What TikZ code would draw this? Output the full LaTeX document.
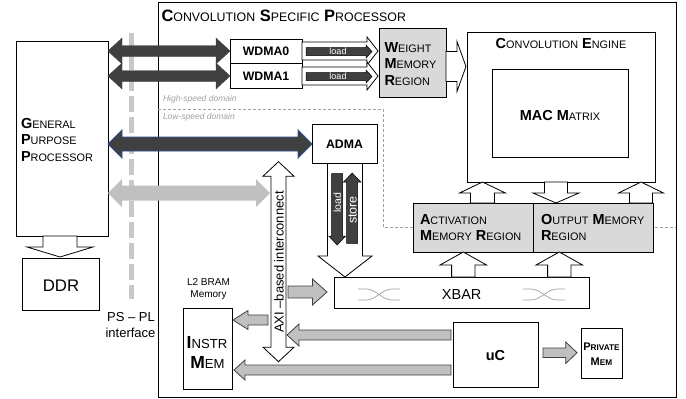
\documentclass[tikz,border=0pt]{standalone}
\usepackage{fontspec}
\setmainfont{Liberation Sans}
\definecolor{dark}{HTML}{404040}
\definecolor{lgray}{HTML}{C0C0C0}
\definecolor{boxgray}{HTML}{D9D9D9}
\definecolor{plgray}{HTML}{C8C8C8}
\definecolor{domgray}{HTML}{A0A0A0}
\definecolor{blueline}{HTML}{2F4F8F}
\newdimen\scd
\makeatletter
\newcommand\SC[2]{{\bfseries #1}{\scd=\f@size pt\scd=0.75\scd\fontsize{\strip@pt\scd}{\strip@pt\scd}\selectfont #2}}
\newcommand\SCb[2]{{\bfseries #1}{\scd=\f@size pt\scd=0.75\scd\fontsize{\strip@pt\scd}{\strip@pt\scd}\selectfont\bfseries #2}}
\makeatother
% horizontal single arrow: [style]{x start}{x tip}{y}{shaft half}{head half}{head length}
\newcommand\HArr[7][]{%
  \pgfmathsetmacro\hb{#3-sign(#3-#2)*#7}%
  \path[#1] (#2,#4-#5) -- (\hb,#4-#5) -- (\hb,#4-#6) -- (#3,#4) -- (\hb,#4+#6) -- (\hb,#4+#5) -- (#2,#4+#5) -- cycle;}
% horizontal double arrow: [style]{x left tip}{x right tip}{y}{shaft half}{head half}{head length}
\newcommand\HDArr[7][]{%
  \path[#1] (#2,#4) -- (#2+#7,#4-#6) -- (#2+#7,#4-#5) -- (#3-#7,#4-#5) -- (#3-#7,#4-#6) -- (#3,#4) -- (#3-#7,#4+#6) -- (#3-#7,#4+#5) -- (#2+#7,#4+#5) -- (#2+#7,#4+#6) -- cycle;}
% vertical single arrow: [style]{y start}{y tip}{x}{shaft half}{head half}{head length}
\newcommand\VArr[7][]{%
  \pgfmathsetmacro\vb{#3-sign(#3-#2)*#7}%
  \path[#1] (#4-#5,#2) -- (#4-#5,\vb) -- (#4-#6,\vb) -- (#4,#3) -- (#4+#6,\vb) -- (#4+#5,\vb) -- (#4+#5,#2) -- cycle;}
% vertical double arrow: [style]{y top tip}{y bottom tip}{x}{shaft half}{head half}{head length}
\newcommand\VDArr[7][]{%
  \path[#1] (#4,#2) -- (#4+#6,#2+#7) -- (#4+#5,#2+#7) -- (#4+#5,#3-#7) -- (#4+#6,#3-#7) -- (#4,#3) -- (#4-#6,#3-#7) -- (#4-#5,#3-#7) -- (#4-#5,#2+#7) -- (#4-#6,#2+#7) -- cycle;}
\begin{document}
\begin{tikzpicture}[x=1pt,y=-1pt,
  box/.style={draw=black, line width=0.8pt, fill=white, inner sep=0pt, outer sep=0pt},
  graybox/.style={box, fill=boxgray},
  hollow/.style={draw=black, line width=0.8pt, fill=white},
  darkarr/.style={fill=dark, draw=dark, line width=0.4pt},
  darkin/.style={fill=dark, draw=black, line width=0.5pt},
  grayarr/.style={fill=lgray, draw=dark, line width=0.8pt},
  lightarr/.style={fill=lgray},
  txt/.style={inner sep=0pt, outer sep=0pt},
  big/.style={txt, font=\fontsize{14.5}{17}\selectfont},
  dom/.style={txt, anchor=base west, text=domgray, font=\fontsize{8.5}{10}\selectfont\itshape},
  whitetxt/.style={txt, text=white},
  xsym/.style={domgray, line width=0.7pt}]
\useasboundingbox (0,0) rectangle (686,399);
% PS-PL interface line
\coordinate (plTop) at (131,33);
\coordinate (plBot) at (131,299);
\draw[plgray, line width=5pt, dash pattern=on 16pt off 5pt] (plTop) -- (plBot);
% Convolution specific processor frame
\node[draw=black, line width=0.8pt, inner sep=0pt, minimum width=518pt, minimum height=395pt] (csp) at (417,199.5) {};
\node[txt, anchor=base west, font=\fontsize{16.5}{19}\selectfont] (title) at (161.5,21) {\SC{C}{ONVOLUTION} \SC{S}{PECIFIC} \SC{P}{ROCESSOR}};
% domain boundary
\draw[domgray, line width=0.6pt, dash pattern=on 3pt off 2pt] (158,109) -- (383,109) -- (383,227.5) -- (676,227.5);
\node[dom] (hs) at (163,101.5) {High-speed domain};
\node[dom] (ls) at (163,119.5) {Low-speed domain};
% boxes
\node[box, minimum width=92pt, minimum height=195pt] (gpp) at (62,138.5) {};
\node[box, minimum width=77pt, minimum height=52pt] (ddr) at (60.5,284) {};
\node[box, minimum width=72pt, minimum height=24.5pt] (wdma0) at (266,51.25) {};
\node[box, minimum width=72pt, minimum height=24.5pt] (wdma1) at (266,75.75) {};
\node[graybox, minimum width=67pt, minimum height=69pt] (wmr) at (412.5,62.5) {};
\node[box, minimum width=188pt, minimum height=150pt] (ce) at (561,107) {};
\node[box, minimum width=136pt, minimum height=88pt] (mac) at (560,113) {};
\node[box, minimum width=65pt, minimum height=39pt] (adma) at (344.5,143.5) {};
\node[graybox, minimum width=120pt, minimum height=49pt] (act) at (473,227.5) {};
\node[graybox, minimum width=120pt, minimum height=49pt] (outm) at (593,227.5) {};
\node[box, minimum width=255pt, minimum height=31pt] (xbar) at (461.5,292.5) {};
\node[box, minimum width=49pt, minimum height=81pt] (instr) at (207.5,348.5) {};
\node[box, minimum width=85pt, minimum height=65pt] (uc) at (495.5,354.5) {};
\node[box, minimum width=41pt, minimum height=50pt] (pmem) at (601.5,353) {};
% texts in boxes
\node[big, anchor=base west] (g1) at (21,128) {\SC{G}{ENERAL}};
\node[big, anchor=base west] (g2) at (21,144.5) {\SC{P}{URPOSE}};
\node[big, anchor=base west] (g3) at (21,161.7) {\SC{P}{ROCESSOR}};
\node[txt, anchor=base, font=\fontsize{16.8}{19}\selectfont] (ddrt) at (61,291.7) {DDR};
\node[txt, font=\fontsize{12.3}{14}\selectfont\bfseries] (w0t) at (266,51.5) {WDMA0};
\node[txt, font=\fontsize{12.3}{14}\selectfont\bfseries] (w1t) at (266,76) {WDMA1};
\node[big, anchor=base west] (wm1) at (384.5,52) {\SC{W}{EIGHT}};
\node[big, anchor=base west] (wm2) at (384.5,68.5) {\SC{M}{EMORY}};
\node[big, anchor=base west] (wm3) at (384.5,85.5) {\SC{R}{EGION}};
\node[big, anchor=base] (cet) at (561,48.3) {\SC{C}{ONVOLUTION} \SC{E}{NGINE}};
\node[big, anchor=base] (mact) at (560,120) {\textbf{MAC} \SC{M}{ATRIX}};
\node[txt, font=\fontsize{12.3}{14}\selectfont\bfseries] (admat) at (344.5,144) {ADMA};
\node[big, anchor=base west] (a1) at (420,224) {\SC{A}{CTIVATION}};
\node[big, anchor=base west] (a2) at (420,240.7) {\SC{M}{EMORY} \SC{R}{EGION}};
\node[big, anchor=base west] (o1) at (541,224) {\SC{O}{UTPUT} \SC{M}{EMORY}};
\node[big, anchor=base west] (o2) at (541,240.7) {\SC{R}{EGION}};
\node[big, anchor=base] (xbt) at (461.7,299.3) {XBAR};
\node[big, anchor=base] (uct) at (495.5,360) {\textbf{uC}};
\node[txt, anchor=base, font=\fontsize{11}{13}\selectfont] (pm1) at (601.5,350.7) {\SCb{P}{RIVATE}};
\node[txt, anchor=base, font=\fontsize{11}{13}\selectfont] (pm2) at (601.5,365.7) {\SCb{M}{EM}};
\node[txt, anchor=base, font=\fontsize{17.5}{20}\selectfont] (in1) at (207,348.3) {\SC{I}{NSTR}};
\node[txt, anchor=base, font=\fontsize{17.5}{20}\selectfont] (in2) at (207.5,368.3) {\SC{M}{EM}};
\node[txt, anchor=base, font=\fontsize{10}{12}\selectfont] (l2a) at (208.5,285.5) {L2 BRAM};
\node[txt, anchor=base, font=\fontsize{10}{12}\selectfont] (l2b) at (208.5,297.5) {Memory};
\node[txt, anchor=base, font=\fontsize{13}{15}\selectfont] (ps1) at (131,321) {PS – PL};
\node[txt, anchor=base, font=\fontsize{13}{15}\selectfont] (ps2) at (130.5,337) {interface};
% XBAR crossing symbols
\foreach \xs in {358,523}{
  \draw[xsym] (\xs,289) -- (\xs+8,289) .. controls (\xs+18,289) and (\xs+24,300) .. (\xs+34,300) -- (\xs+42,300);
  \draw[xsym] (\xs,300) -- (\xs+8,300) .. controls (\xs+18,300) and (\xs+24,289) .. (\xs+34,289) -- (\xs+42,289);
}
% GPP side arrows
\HDArr[darkarr]{108}{230}{51}{5.5}{13}{14}
\HDArr[darkarr]{108}{230}{76}{5.5}{13}{14}
\HDArr[fill=dark, draw=blueline, line width=0.9pt]{108}{312}{144}{7}{14}{14}
\HDArr[lightarr]{108}{270}{193}{7.5}{14}{14}
\VArr[hollow]{236}{257}{60}{17}{33}{10}
% WDMA -> weight memory
\HArr[hollow]{302}{378}{51}{9}{14}{11}
\HArr[hollow]{302}{378}{76}{9}{14}{11}
\HArr[darkin]{306}{372}{51.5}{4}{6.5}{6}
\HArr[darkin]{306}{372}{76.5}{4}{6.5}{6}
\node[whitetxt, font=\fontsize{9}{10}\selectfont] (ld0) at (338,51.5) {load};
\node[whitetxt, font=\fontsize{9}{10}\selectfont] (ld1) at (338,76.5) {load};
% weight memory -> engine
\HArr[hollow]{446}{466}{66.5}{15}{25}{9}
% engine <-> activation / output
\VArr[hollow]{203}{182}{482.5}{12}{23}{11}
\VArr[hollow]{182}{203}{556}{11.5}{23}{10}
\VArr[hollow]{203}{182}{641}{11.5}{22.5}{11}
% xbar -> activation / output
\VArr[hollow]{277}{252}{463.3}{11.7}{23.3}{13}
\VArr[hollow]{277}{252}{559.3}{11.7}{23.3}{13}
% ADMA -> XBAR with load/store
\VArr[hollow]{163.4}{277}{345}{17.5}{27}{21}
\VArr[darkin]{173.5}{245}{337.2}{5.5}{8.5}{9}
\VArr[darkin]{243.3}{173}{352.2}{5.5}{8.7}{9}
\node[whitetxt, rotate=90, font=\fontsize{10.5}{12}\selectfont] (ldv) at (337.4,203) {load};
\node[whitetxt, rotate=90, font=\fontsize{12.5}{14}\selectfont] (stv) at (352.6,210) {store};
% AXI interconnect
\VDArr[hollow]{161.7}{361.7}{278.5}{7.5}{15.5}{14.5}
\node[txt, rotate=90, font=\fontsize{13}{15}\selectfont] (axit) at (279,262) {AXI –based interconnect};
% gray filled arrows
\HArr[grayarr]{288}{327}{292}{6}{13}{14.5}
\HArr[grayarr]{268}{233}{320}{5}{9.5}{15}
\HArr[grayarr]{451}{287}{335}{5}{11}{12}
\HArr[grayarr]{451}{234}{370}{5}{10}{11}
\HArr[grayarr]{543}{577}{352.7}{4.7}{10.8}{11.3}
\end{tikzpicture}
\end{document}
